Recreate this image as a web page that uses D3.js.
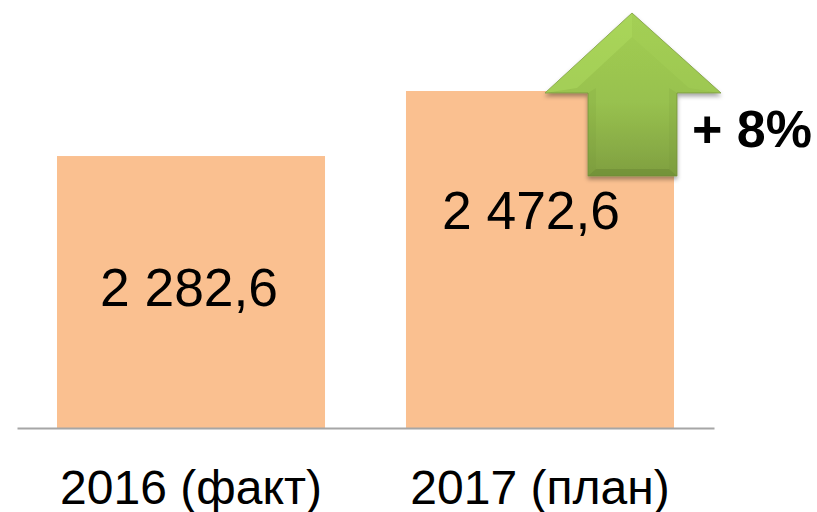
<!DOCTYPE html>
<html>
<head>
<meta charset="utf-8">
<script src="https://cdn.jsdelivr.net/npm/d3@7"></script>
<style>
  html, body { margin: 0; padding: 0; background: #fff; }
  svg { display: block; font-family: "Liberation Sans", Arial, sans-serif; }
</style>
</head>
<body>
<svg id="chart" width="817" height="512"></svg>
<script>
const categories = ["2016 (факт)", "2017 (план)"];
const values = [2282.6, 2472.6];
const valueLabels = ["2 282,6", "2 472,6"];
const changeLabel = "+ 8%";

const svg = d3.select("#chart");

// the value axis of the original is cut off well above zero
const x = d3.scaleBand().domain(categories).range([17, 714]).paddingInner(0.232).paddingOuter(0.1146);
const y = d3.scaleLinear().domain([1488, 2472.6]).range([428, 91]);

const defs = svg.append("defs");

const grad = defs.append("linearGradient").attr("id", "arrowFill")
  .attr("x1", 0).attr("x2", 0).attr("y1", 0).attr("y2", 1);
grad.append("stop").attr("offset", "0%").attr("stop-color", "#a2ce52");
grad.append("stop").attr("offset", "55%").attr("stop-color", "#98c14f");
grad.append("stop").attr("offset", "100%").attr("stop-color", "#7f9f40");

const blur = defs.append("filter").attr("id", "arrowShadow")
  .attr("x", "-10%").attr("y", "-10%").attr("width", "120%").attr("height", "125%");
blur.append("feDropShadow").attr("dx", 0).attr("dy", 3).attr("stdDeviation", 2)
  .attr("flood-color", "#000").attr("flood-opacity", 0.35);

svg.selectAll("rect.bar").data(values).join("rect")
  .attr("class", "bar")
  .attr("x", (d, i) => x(categories[i]))
  .attr("y", d => y(d))
  .attr("width", x.bandwidth())
  .attr("height", d => y.range()[0] - y(d))
  .attr("fill", "#fac090");

const axis = svg.append("g")
  .attr("transform", `translate(0,${y.range()[0]})`)
  .call(d3.axisBottom(x).tickSize(0).tickPadding(42));
axis.select(".domain").attr("stroke", "#a6a6a6").attr("stroke-width", 2);
axis.selectAll("text")
  .attr("fill", "#000")
  .attr("font-size", 48)
  .attr("font-family", '"Liberation Sans", Arial, sans-serif');

// labels sit at different heights inside the bars, second one is shifted left
const labelDx = [-2, -9];
const labelDy = [150, 138];
svg.selectAll("text.value").data(values).join("text")
  .attr("class", "value")
  .attr("x", (d, i) => x(categories[i]) + x.bandwidth() / 2 + labelDx[i])
  .attr("y", (d, i) => y(d) + labelDy[i])
  .attr("text-anchor", "middle")
  .attr("font-size", 53.4)
  .attr("fill", "#000")
  .text((d, i) => valueLabels[i]);

// arrow callout
const arrow = svg.append("g").attr("transform", "translate(632,13)");
arrow.append("path")
  .attr("d", "M0,0L89,80L45,80L45,163L-44,163L-44,80L-87,80Z")
  .attr("fill", "url(#arrowFill)")
  .attr("stroke", "#76923c")
  .attr("stroke-width", 0.8)
  .attr("filter", "url(#arrowShadow)");
// bevel edges
arrow.append("path").attr("d", "M0,0L-87,80L-55,75L0,24Z").attr("fill", "#b5e063").attr("opacity", 0.4);
arrow.append("path").attr("d", "M0,0L89,80L57,75L0,24Z").attr("fill", "#a8d45a").attr("opacity", 0.3);
arrow.append("path").attr("d", "M-44,163L45,163L37,156L-36,156Z").attr("fill", "#5f7a2e").attr("opacity", 0.35);
arrow.append("path").attr("d", "M45,80L45,163L37,156L37,75Z").attr("fill", "#6d8a35").attr("opacity", 0.12);
arrow.append("path").attr("d", "M-44,80L-44,163L-36,156L-36,75Z").attr("fill", "#6d8a35").attr("opacity", 0.12);

svg.append("text")
  .attr("x", 692)
  .attr("y", 147)
  .attr("font-size", 52)
  .attr("font-weight", "bold")
  .attr("fill", "#000")
  .text(changeLabel);
</script>
</body>
</html>
